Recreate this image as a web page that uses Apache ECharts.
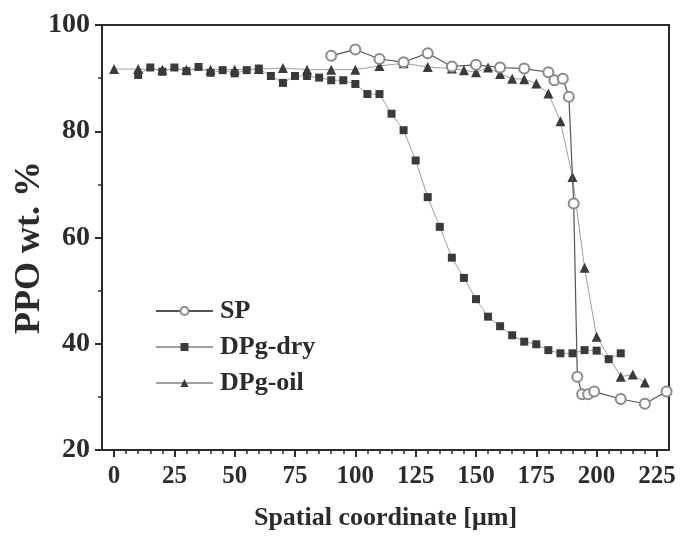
<!DOCTYPE html>
<html>
<head>
<meta charset="utf-8">
<script src="https://cdn.jsdelivr.net/npm/echarts@6/dist/echarts.min.js"></script>
<style>html,body{margin:0;padding:0;background:#fff;}#c{width:681px;height:539px;}</style>
</head>
<body>
<div id="c"></div>
<script>
// ---- data ----
const spX = [90,100,110,120,130,140,150,160,170,180,182.5,186,188.5,190.5,192,194,196.5,199,210,220,229];
const spY = [94.2,95.4,93.6,93.0,94.7,92.2,92.5,92.0,91.8,91.1,89.6,89.9,86.5,66.4,33.8,30.5,30.5,31.0,29.6,28.7,31.0];

const dryX = [10,15,20,25,30,35,40,45,50,55,60,65,70,75,80,85,90,95,100,105,110,115,120,125,130,135,140,145,150,155,160,165,170,175,180,185,190,195,200,205,210];
const dryY = [90.6,92.0,91.2,92.0,91.3,92.1,91.0,91.5,90.9,91.5,91.8,90.4,89.1,90.4,90.4,90.1,89.6,89.6,88.9,87.0,87.0,83.3,80.2,74.5,67.6,62.0,56.2,52.4,48.4,45.1,43.3,41.6,40.4,39.9,38.8,38.2,38.2,38.8,38.7,37.1,38.2];

const oilX = [0,10,20,30,40,50,60,70,80,90,100,110,120,130,140,145,150,155,160,165,170,175,180,185,190,195,200,210,215,220];
const oilY = [91.7,91.7,91.6,91.6,91.6,91.6,91.7,91.9,91.6,91.6,91.6,92.3,92.8,92.1,91.8,91.5,91.1,92.0,90.8,89.9,89.8,89.0,87.1,81.9,71.4,54.3,41.3,33.8,34.2,32.7];

const seriesNames = ['SP','DPg-dry','DPg-oil'];
const xTickMin = 0, xTickMax = 225, xTickStep = 25;
const yMin = 20, yMax = 100, yStep = 20;
const xTitle = 'Spatial coordinate [μm]';
const yTitle = 'PPO wt. %';

const zip = (a, b) => a.map((v, i) => [v, b[i]]);

// ---- layout ----
const W = 681, H = 539;
const gl = 102, gr = 669, gt = 25, gb = 450;
const xLo = -5, xHi = 230;
const pxPerUnit = (gr - gl) / (xHi - xLo);
const g2l = gl + (xTickMin - xLo) * pxPerUnit;
const g2r = gl + (xTickMax - xLo) * pxPerUnit;

const font = 'Liberation Serif';
const txt = '#2b2b2b';
const axisCol = '#2b2b2b';

const chart = echarts.init(document.getElementById('c'), null, {renderer: 'canvas'});
chart.setOption({
  backgroundColor: '#ffffff',
  animation: false,
  grid: [
    {left: gl, right: W - gr, top: gt, bottom: H - gb, containLabel: false, outerBoundsMode: 'none'},
    {left: g2l, right: W - g2r, top: gt, bottom: H - gb, containLabel: false, outerBoundsMode: 'none'}
  ],
  legend: {
    orient: 'vertical',
    left: 150, top: 293,
    itemWidth: 57, itemHeight: 10, itemGap: 10,
    data: seriesNames,
    textStyle: {fontFamily: font, fontWeight: 'bold', fontSize: 26, lineHeight: 26, color: txt, padding: [0,0,0,2]}
  },
  xAxis: [
    {
      gridIndex: 0, type: 'value', min: xLo, max: xHi, position: 'bottom',
      axisLine: {show: true, onZero: false, lineStyle: {color: axisCol, width: 2}},
      axisTick: {show: false}, axisLabel: {show: false}, splitLine: {show: false},
      name: xTitle, nameLocation: 'middle', nameGap: 55, nameMoveOverlap: false,
      nameTextStyle: {fontFamily: font, fontWeight: 'bold', fontSize: 26, color: txt}
    },
    {
      gridIndex: 0, type: 'value', min: xLo, max: xHi, position: 'top',
      axisLine: {show: true, onZero: false, lineStyle: {color: axisCol, width: 2}},
      axisTick: {show: false}, axisLabel: {show: false}, splitLine: {show: false}
    },
    {
      gridIndex: 1, type: 'value', min: xTickMin, max: xTickMax, interval: xTickStep, position: 'bottom',
      axisLine: {show: false, onZero: false},
      axisTick: {show: true, inside: false, length: 7, lineStyle: {color: axisCol, width: 2}},
      minorTick: {show: true, splitNumber: 5, length: 4, lineStyle: {color: axisCol, width: 1.5}},
      axisLabel: {fontFamily: font, fontWeight: 'bold', fontSize: 25, color: txt, margin: 14},
      splitLine: {show: false}
    }
  ],
  yAxis: [
    {
      gridIndex: 0, type: 'value', min: yMin, max: yMax, interval: yStep, position: 'left',
      axisLine: {show: true, onZero: false, lineStyle: {color: axisCol, width: 2}},
      axisTick: {show: true, inside: false, length: 7, lineStyle: {color: axisCol, width: 2}},
      minorTick: {show: true, splitNumber: 2, length: 4, lineStyle: {color: axisCol, width: 1.5}},
      axisLabel: {fontFamily: font, fontWeight: 'bold', fontSize: 28, color: txt, margin: 12},
      splitLine: {show: false},
      name: yTitle, nameLocation: 'middle', nameGap: 54, nameMoveOverlap: false,
      nameTextStyle: {fontFamily: font, fontWeight: 'bold', fontSize: 36, color: txt, padding: [0, 20, 0, 0]}
    },
    {
      gridIndex: 0, type: 'value', min: yMin, max: yMax, position: 'right',
      axisLine: {show: true, onZero: false, lineStyle: {color: axisCol, width: 2}},
      axisTick: {show: false}, axisLabel: {show: false}, splitLine: {show: false}
    },
    {
      gridIndex: 1, type: 'value', min: yMin, max: yMax, show: false
    }
  ],
  series: [
    {
      name: seriesNames[0], type: 'line', xAxisIndex: 0, yAxisIndex: 0,
      data: zip(spX, spY), z: 4,
      symbol: 'emptyCircle', symbolSize: 10,
      lineStyle: {color: '#555555', width: 1.2},
      itemStyle: {color: '#8a8a8a', borderColor: '#8a8a8a', borderWidth: 1.2}
    },
    {
      name: seriesNames[1], type: 'line', xAxisIndex: 0, yAxisIndex: 0,
      data: zip(dryX, dryY), z: 3,
      symbol: 'rect', symbolSize: 8,
      lineStyle: {color: '#a0a0a0', width: 1},
      itemStyle: {color: '#3a3a3a', borderWidth: 0}
    },
    {
      name: seriesNames[2], type: 'line', xAxisIndex: 0, yAxisIndex: 0,
      data: zip(oilX, oilY), z: 3,
      symbol: 'triangle', symbolSize: 10,
      lineStyle: {color: '#a0a0a0', width: 1},
      itemStyle: {color: '#3a3a3a', borderWidth: 0}
    }
  ]
});
</script>
</body>
</html>
